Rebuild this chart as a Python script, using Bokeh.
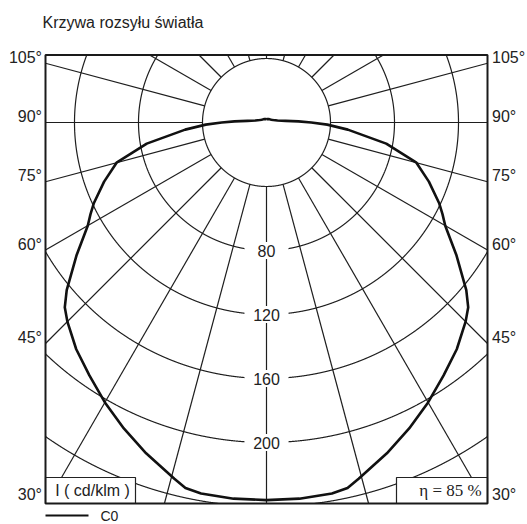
import numpy as np
from bokeh.plotting import figure
from bokeh.models import Range1d
from bokeh.core.properties import value
from bokeh.embed import file_html
from bokeh.resources import INLINE

# ---------------- data ----------------
title_text = "Krzywa rozsyłu światła"
gamma_deg = [0, 5, 10, 12.5, 14.5, 20, 25, 30, 35, 40, 45, 47.5, 50, 55, 60, 62.5,
             65, 70, 75, 80, 85, 88, 90, 92, 95, 100, 110, 120, 135, 150, 165, 180]
intensity_c0 = [236, 236, 235.5, 234, 230, 220, 211, 202, 193, 185, 176, 171, 163, 145, 129, 124,
                119, 108, 97, 76, 51, 38, 28, 20, 12, 7, 4.5, 3.5, 2.8, 2.5, 2.2, 2]
ring_values = [40, 80, 120, 160, 200, 240]
ring_label_values = [80, 120, 160, 200]
ring_labels = ["80", "120", "160", "200"]
ray_angles = list(range(-180, 180, 15))
angle_tick_values = [105, 90, 75, 60, 45, 30]
angle_tick_labels = ["105°", "90°", "75°", "60°", "45°", "30°"]
unit_label = "I ( cd/klm )"
efficiency_label = "η = 85 %"
series_name = "C0"

# ---------------- layout ----------------
W, H = 527, 524
K = 1.6            # px per cd/klm
CX, CY = 266, 122  # pole position inside the canvas (px)
FONT = value("Liberation Sans")
TXT = "#222222"
GRID = "#1e1e1e"


def d(xp, yp):
    """canvas pixel -> data coordinates"""
    return (xp - CX) / K, (CY - yp) / K


fx0, fy1 = d(45, 54.5)
fx1, fy0 = d(487, 503)

p = figure(width=W, height=H, output_backend="svg", toolbar_location=None,
           x_range=Range1d(-CX / K, (W - CX) / K), y_range=Range1d(-(H - CY) / K, CY / K),
           x_axis_location=None, y_axis_location=None, min_border=0)
p.grid.visible = False
p.outline_line_color = None
p.background_fill_color = "white"


def inside(x, y):
    return (x >= fx0) & (x <= fx1) & (y >= fy0) & (y <= fy1)


# rings clipped to the frame
ring_xs, ring_ys = [], []
t = np.radians(np.arange(-180, 180.0001, 0.05))
for r in ring_values:
    x = r * np.sin(t)
    y = -r * np.cos(t)
    m = inside(x, y)
    if m.all():
        ring_xs.append(list(x)); ring_ys.append(list(y))
        continue
    idx = np.where(m)[0]
    if len(idx) == 0:
        continue
    breaks = np.where(np.diff(idx) > 1)[0]
    starts = np.concatenate([[0], breaks + 1])
    ends = np.concatenate([breaks, [len(idx) - 1]])
    for s, e in zip(starts, ends):
        seg = idx[s:e + 1]
        ring_xs.append(list(x[seg])); ring_ys.append(list(y[seg]))
p.multi_line(ring_xs, ring_ys, line_color=GRID, line_width=1.2)

# radial rays from the 40 circle to the frame
ray_xs, ray_ys = [], []
r0 = ring_values[0]
for a in ray_angles:
    ar = np.radians(a)
    dx, dy = np.sin(ar), -np.cos(ar)
    cands = []
    if dx > 1e-9:
        cands.append(fx1 / dx)
    if dx < -1e-9:
        cands.append(fx0 / dx)
    if dy > 1e-9:
        cands.append(fy1 / dy)
    if dy < -1e-9:
        cands.append(fy0 / dy)
    tmax = min(cands)
    if tmax <= r0:
        continue
    ray_xs.append([r0 * dx, tmax * dx]); ray_ys.append([r0 * dy, tmax * dy])
p.multi_line(ray_xs, ray_ys, line_color=GRID, line_width=1.2)

# ring value labels with white background
p.rect(x=[0] * len(ring_label_values), y=[-v for v in ring_label_values], width=44, height=17,
       width_units="screen", height_units="screen", fill_color="white", line_color=None)
p.text(x=[0] * len(ring_label_values), y=[-v for v in ring_label_values], text=ring_labels,
       text_font=FONT, text_font_size="16px", text_align="center", text_baseline="middle",
       text_color=TXT)

# intensity curve (C0, symmetric)
g = np.radians(np.array(gamma_deg))
I = np.array(intensity_c0)
xl = -(I * np.sin(g))[::-1]
yl = -(I * np.cos(g))[::-1]
xr = (I * np.sin(g))[1:]
yr = -(I * np.cos(g))[1:]
p.line(np.concatenate([xl, xr]), np.concatenate([yl, yr]), line_color="#111111", line_width=2.6,
       line_join="round")

# boxes at the bottom
bx0, by0 = d(45, 503)
bx1, by1 = d(135, 477)
ex0, _ = d(396, 503)
p.quad(left=[bx0, ex0], right=[bx1, fx1], bottom=[by0, by0], top=[by1, by1],
       fill_color="white", line_color="#222222", line_width=1.2)
ux, uy = d(92, 490)
p.text(x=[ux], y=[uy], text=[unit_label], text_font=FONT, text_font_size="16px",
       text_align="center", text_baseline="middle", text_color=TXT)
exx, exy = d(450, 490)
p.text(x=[exx], y=[exy], text=[efficiency_label], text_font=value("Liberation Serif"),
       text_font_size="17px", text_align="center", text_baseline="middle", text_color=TXT)

# frame
p.quad(left=[fx0], right=[fx1], bottom=[fy0], top=[fy1], fill_color=None,
       line_color="#1a1a1a", line_width=2)

# angle labels on both sides (centred a little above where each ray meets the frame)
ly = []
for a in angle_tick_values:
    ar = np.radians(a)
    yv = -fx1 * np.cos(ar) / np.sin(ar)
    ly.append(max(yv, fy0 + 3 / K) + 6 / K)
p.text(x=[fx0 - 3.5 / K] * len(ly), y=ly, text=angle_tick_labels, text_font=FONT,
       text_font_size="16px", text_align="right", text_baseline="middle", text_color=TXT)
p.text(x=[fx1 + 4.5 / K] * len(ly), y=ly, text=angle_tick_labels, text_font=FONT,
       text_font_size="16px", text_align="left", text_baseline="middle", text_color=TXT)

# title
tx, ty = d(42, 21.5)
p.text(x=[tx], y=[ty], text=[title_text], text_font=FONT, text_font_size="16px",
       text_align="left", text_baseline="middle", text_color=TXT)

# legend
lx0, lyy = d(45, 515)
lx1, _ = d(88, 515)
p.line([lx0, lx1], [lyy, lyy], line_color="#111111", line_width=2)
cx_, cy_ = d(100, 515)
p.text(x=[cx_], y=[cy_], text=[series_name], text_font=FONT, text_font_size="14px",
       text_align="left", text_baseline="middle", text_color=TXT)

open("out.html", "w").write(file_html(p, INLINE))
